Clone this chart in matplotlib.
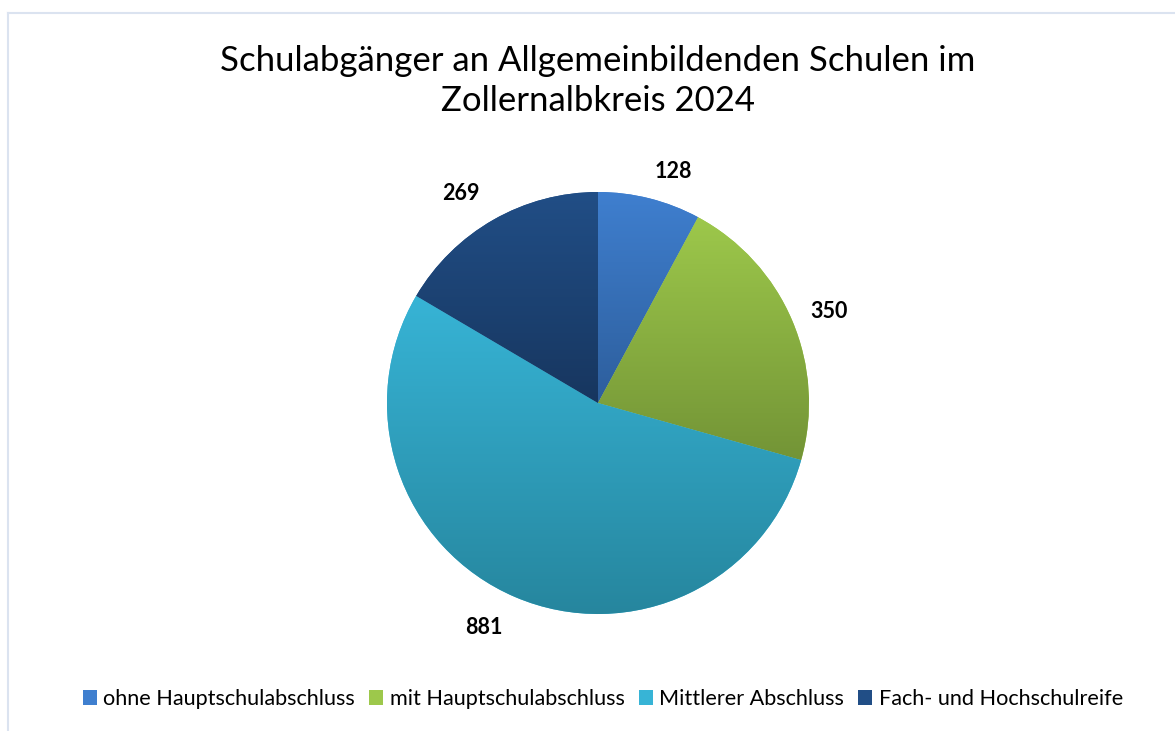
import matplotlib
import matplotlib.pyplot as plt
import numpy as np
from matplotlib.colors import LinearSegmentedColormap
from matplotlib.lines import Line2D
from matplotlib.patches import Patch

matplotlib.use("Agg")

title = "Schulabgänger an Allgemeinbildenden Schulen im\nZollernalbkreis 2024"
categories = [
    "ohne Hauptschulabschluss",
    "mit Hauptschulabschluss",
    "Mittlerer Abschluss",
    "Fach- und Hochschulreife",
]
values = [128, 350, 881, 269]
# (top, bottom) of each slice's vertical gradient
grad_colors = [
    ("#3f7fcf", "#2d5e9c"),
    ("#9dc84b", "#739436"),
    ("#37b4d6", "#26869e"),
    ("#214e86", "#17365f"),
]
label_pos = [(673, 172), (829, 311), (484, 627), (461, 193)]

W, H = 1175, 731
plt.rcParams["font.family"] = ["Lato", "DejaVu Sans"]

fig = plt.figure(figsize=(W / 100, H / 100), dpi=100)
fig.patch.set_facecolor("white")

# thin frame lines at top and left
fig.add_artist(Line2D([8 / W, 1], [1 - 13 / H, 1 - 13 / H], color="#dbe3f0", lw=1.5))
fig.add_artist(Line2D([8 / W, 8 / W], [0, 1 - 13 / H], color="#dbe3f0", lw=1.5))

fig.text(598 / W, 1 - 81 / H, title, ha="center", va="center", fontsize=25,
         linespacing=1.3, color="#000000")

cx, cy, r = 598, 403, 211
ax = fig.add_axes([(cx - r) / W, (H - cy - r) / H, 2 * r / W, 2 * r / H])
wedges, _ = ax.pie(values, startangle=90, counterclock=False, radius=1,
                   wedgeprops=dict(linewidth=0))
ax.axis("off")

grad = np.linspace(0, 1, 256).reshape(-1, 1)
for w, (top, bot) in zip(wedges, grad_colors):
    ext = w.get_path().get_extents()
    cmap = LinearSegmentedColormap.from_list("g", [top, bot])
    w.set_facecolor(top)
    im = ax.imshow(grad, cmap=cmap, aspect="auto", origin="upper",
                   extent=[ext.x0, ext.x1, ext.y0, ext.y1], zorder=2)
    im.set_clip_path(w)
ax.set_xlim(-1, 1)
ax.set_ylim(-1, 1)

for v, (x, y) in zip(values, label_pos):
    fig.text(x / W, 1 - y / H, str(v), ha="center", va="center",
             fontsize=15.5, fontweight="bold", color="#000000")

handles = [Patch(facecolor=c[0], edgecolor="none") for c in grad_colors]
fig.legend(handles, categories, loc="center", bbox_to_anchor=(603 / W, 1 - 699 / H),
           ncol=4, frameon=False, fontsize=15.6, handlelength=0.65,
           handleheight=0.65, handletextpad=0.3, columnspacing=0.65)

fig.savefig("out.png", dpi=100)
